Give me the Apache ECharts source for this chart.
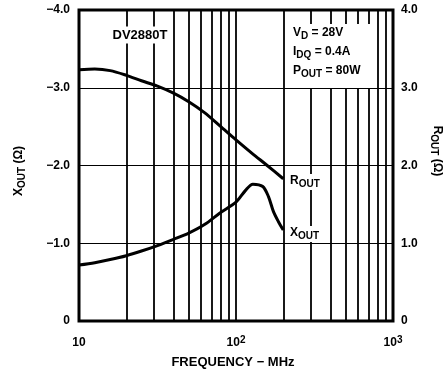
<!DOCTYPE html>
<html>
<head>
<meta charset="utf-8">
<script src="https://cdn.jsdelivr.net/npm/echarts@6/dist/echarts.min.js"></script>
<style>
  html, body { margin: 0; padding: 0; background: #fff; }
  #chart { width: 446px; height: 370px; }
</style>
</head>
<body>
<div id="chart"></div>
<script>
// X_OUT magnitude (ohms), plotted on the left axis which runs 0 .. -4
const xoutFreq = [10, 12.6, 15.8, 20, 25, 31.6, 40, 50, 63, 79, 100, 115, 128, 148, 161, 173, 186, 200];
const xoutVals = [0.72, 0.75, 0.79, 0.84, 0.90, 0.97, 1.05, 1.13, 1.24, 1.39, 1.53, 1.68, 1.76, 1.73, 1.60, 1.41, 1.28, 1.17];

// R_OUT (ohms), right axis 0 .. 4
const routFreq = [10, 12.6, 15.8, 20, 25, 31.6, 40, 50, 63, 79, 100, 126, 158, 200];
const routVals = [3.23, 3.24, 3.22, 3.16, 3.09, 3.02, 2.93, 2.82, 2.68, 2.51, 2.33, 2.16, 2.00, 1.83];

// log-grid lines between the decades
const gridFreqs = [20, 30, 40, 50, 60, 70, 80, 90, 200, 300, 400, 500, 600, 700, 800, 900];

const FONT = '"Liberation Sans", Arial, sans-serif';
const ink = "#000";

const el = document.getElementById("chart");
const chart = echarts.init(el, null, { renderer: "canvas" });

const subRich = {
  m: { fontSize: 12, fontWeight: "bold", fontFamily: FONT, color: ink, lineHeight: 14, verticalAlign: "top", padding: [0, 0, 4, 0] },
  s: { fontSize: 10, fontWeight: "bold", fontFamily: FONT, color: ink, lineHeight: 10, verticalAlign: "bottom" },
};

function label(text, x, y) {
  return {
    type: "text",
    x: x,
    y: y,
    z: 100,
    style: {
      text: text,
      rich: subRich,
      fill: ink,
      backgroundColor: "#fff",
      padding: [1, 3, 1, 3],
    },
  };
}

const option = {
  animation: false,
  backgroundColor: "#fff",
  grid: {
    left: 79, right: 53, top: 10, bottom: 49,
    show: true,
    borderColor: ink,
    borderWidth: 3,
    backgroundColor: "transparent",
  },
  xAxis: {
    type: "log",
    logBase: 10,
    min: 10,
    max: 1000,
    axisLine: { show: false },
    axisTick: { show: false },
    splitLine: { show: true, lineStyle: { color: ink, width: 1.8 } },
    axisLabel: {
      margin: 14,
      color: ink,
      formatter: (v) => {
        const p = Math.round(Math.log10(v));
        return p === 1 ? "{b|10}" : "{b|10}{p|" + p + "}";
      },
      rich: {
        b: { fontSize: 12, fontWeight: "bold", fontFamily: FONT, color: ink, lineHeight: 14, verticalAlign: "bottom", padding: [4, 0, 0, 0] },
        p: { fontSize: 10, fontWeight: "bold", fontFamily: FONT, color: ink, lineHeight: 10, verticalAlign: "top" },
      },
    },
  },
  yAxis: [
    {
      type: "value",
      position: "left",
      inverse: true,
      min: -4,
      max: 0,
      interval: 1,
      axisLine: { show: false },
      axisTick: { show: false },
      splitLine: { show: false },
      axisLabel: {
        margin: 9,
        color: ink,
        fontSize: 12,
        fontWeight: "bold",
        fontFamily: FONT,
        formatter: (v) => (v === 0 ? "0" : "\u2212" + Math.abs(v).toFixed(1)),
      },
    },
    {
      type: "value",
      position: "right",
      min: 0,
      max: 4,
      interval: 1,
      axisLine: { show: false },
      axisTick: { show: false },
      splitLine: { show: true, lineStyle: { color: ink, width: 1.2 } },
      axisLabel: {
        margin: 8,
        color: ink,
        fontSize: 12,
        fontWeight: "bold",
        fontFamily: FONT,
        formatter: (v) => (v === 0 ? "0" : v.toFixed(1)),
      },
    },
  ],
  series: [
    {
      name: "ROUT",
      type: "line",
      yAxisIndex: 1,
      smooth: 0.3,
      showSymbol: false,
      lineStyle: { color: ink, width: 3 },
      data: routFreq.map((f, i) => [f, routVals[i]]),
      markLine: {
        silent: true,
        symbol: ["none", "none"],
        label: { show: false },
        lineStyle: { color: ink, width: 1.8, type: "solid" },
        data: gridFreqs.map((f) => ({ xAxis: f })),
      },
      z: 5,
    },
    {
      name: "XOUT",
      type: "line",
      yAxisIndex: 0,
      smooth: 0.3,
      showSymbol: false,
      lineStyle: { color: ink, width: 3 },
      data: xoutFreq.map((f, i) => [f, -xoutVals[i]]),
      z: 5,
    },
  ],
  graphic: [
    // conditions box
    { type: "rect", z: 90, shape: { x: 285, y: 24, width: 91, height: 64 }, style: { fill: "#fff" } },
    label("{m|V}{s|D}{m| = 28V}", 290, 26),
    label("{m|I}{s|DQ}{m| = 0.4A}", 290, 45),
    label("{m|P}{s|OUT}{m| = 80W}", 290, 64),
    // device name
    {
      type: "text", z: 100, x: 140, y: 35,
      style: {
        text: "DV2880T", font: "bold 13px " + FONT, fill: ink,
        align: "center", verticalAlign: "middle",
        backgroundColor: "#fff", padding: [2, 3, 2, 3],
      },
    },
    // curve labels
    label("{m|R}{s|OUT}", 287, 174),
    label("{m|X}{s|OUT}", 287, 226),
    // axis names
    {
      type: "text", z: 100, x: 20, y: 171, rotation: Math.PI / 2,
      style: { text: "{m|X}{s|OUT}{m| (\u03A9)}", rich: subRich, align: "center", verticalAlign: "middle", fill: ink },
    },
    {
      type: "text", z: 100, x: 436, y: 151, rotation: -Math.PI / 2,
      style: { text: "{m|R}{s|OUT}{m| (\u03A9)}", rich: subRich, align: "center", verticalAlign: "middle", fill: ink },
    },
    {
      type: "text", z: 100, x: 233, y: 362,
      style: { text: "FREQUENCY \u2212 MHz", font: "bold 13px " + FONT, fill: ink, align: "center", verticalAlign: "middle" },
    },
  ],
};

chart.setOption(option);
window.addEventListener("resize", () => chart.resize());
</script>
</body>
</html>
